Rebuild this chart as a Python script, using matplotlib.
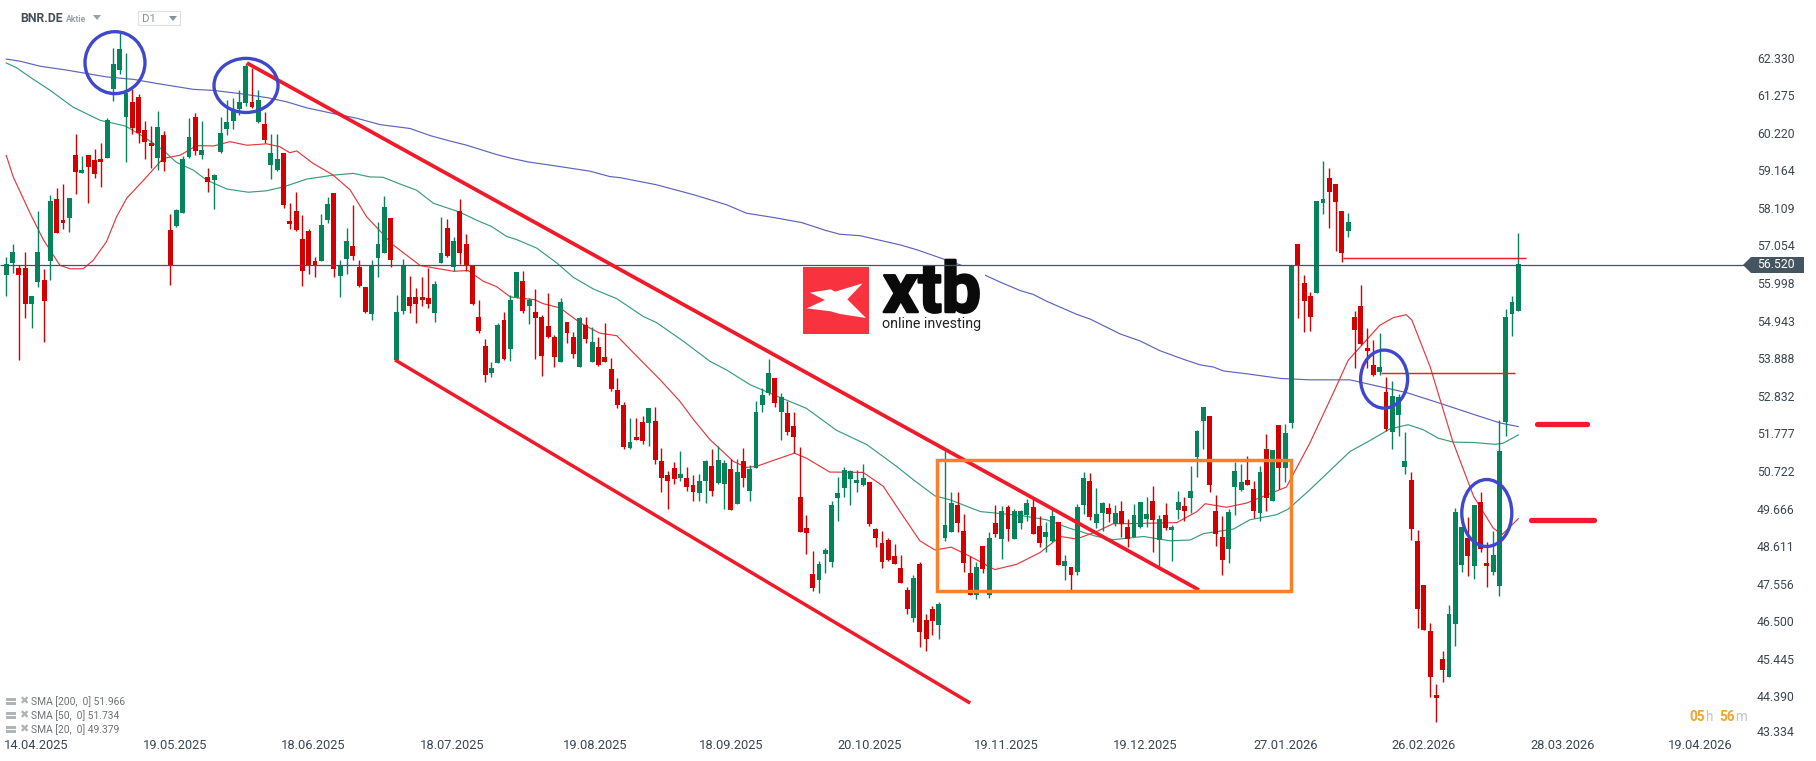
import matplotlib
matplotlib.use("Agg")
import matplotlib.pyplot as plt
import matplotlib.patheffects as pe
from matplotlib.patches import Ellipse, Rectangle, Polygon, FancyBboxPatch
from matplotlib.transforms import ScaledTranslation

W, H = 1816, 761
plt.rcParams['font.family'] = ['Roboto', 'DejaVu Sans']

directions = ("GGRRGGRGRR" "GRGRRRGGGG" "RRRRGRRGGG" "RGRGGGGGGR" "GRGGRRRRRR"
              "GGRGGRRRGG" "GRGGRRRRGG" "RGRRRRRGGR" "GGRGRRRRGR" "RGRGRRRRRG"
              "RRGRRRRGRR" "GGRGGRGRGG" "GGRGRRRRRG" "GGGGGGGRRR" "RRRRGRRRGG"
              "GRRRGRGRGR" "GGGRRGGRGR" "GGRGGRGRRG" "GGRGRGGRGG" "GRRRGGGRRG"
              "RGRGGRRRGG" "RRRGRRRRGR" "GGGRRRRRRG" "GGRGRRGGGGG")

highs = [56.74,57.09,56.52,56.87,55.63,58.02,56.38,58.47,58.66,58.78,
         58.39,60.18,59.56,59.59,59.76,59.92,60.63,62.60,63.02,62.45,
         61.44,61.32,60.55,60.41,60.83,60.27,57.95,58.08,59.56,60.63,
         60.77,60.55,59.23,59.06,60.66,61.14,61.19,61.42,62.17,62.04,
         61.42,60.80,60.18,60.18,59.65,58.25,58.55,57.91,57.51,56.73,
         57.94,58.41,58.53,56.64,57.54,58.19,56.64,55.89,56.64,57.71,
         58.44,57.82,55.66,56.67,56.20,55.86,56.17,56.42,56.05,57.86,
         57.80,57.29,58.37,57.38,56.52,55.53,54.44,53.79,54.88,55.19,
         55.67,56.32,56.34,55.59,55.84,55.11,55.73,54.55,55.59,54.91,
         54.63,55.05,55.05,54.77,54.49,54.88,53.90,53.34,52.67,52.22,
         52.22,52.27,52.50,52.53,51.37,50.73,50.98,51.29,50.84,50.62,
         50.64,51.04,51.35,51.43,51.04,51.07,51.07,51.37,50.90,52.69,
         53.06,53.87,53.34,52.92,52.69,52.39,51.40,49.49,48.48,48.20,
         48.57,49.89,50.56,50.84,50.76,50.76,50.93,50.42,49.13,49.04,
         48.84,48.67,48.37,47.46,47.80,48.16,46.70,46.93,47.04,51.29,
         50.13,50.13,49.52,48.32,48.17,48.62,49.01,49.77,49.74,49.77,
         49.66,49.63,49.94,49.94,49.46,49.29,49.63,49.29,48.37,48.03,
         49.80,50.70,50.67,50.25,49.85,49.83,49.77,49.88,49.38,49.80,
         49.85,49.99,50.30,49.49,49.83,49.21,50.16,49.99,50.87,51.88,
         52.52,52.27,50.05,49.46,49.66,50.98,50.92,51.15,50.44,50.87,
         51.76,51.31,52.02,52.04,56.52,57.09,56.22,55.74,58.30,59.42,
         59.22,58.77,58.02,57.96,55.21,55.94,54.73,54.39,54.59,53.36,
         53.24,52.88,51.82,50.70,49.07,47.53,46.46,44.75,45.67,46.96,
         49.69,49.15,49.43,49.77,50.14,48.73,49.04,52.16,55.26,55.63,57.40]

tops = [56.52,56.87,56.42,56.42,55.63,56.87,56.08,58.30,58.36,57.77,
        58.39,59.59,59.17,59.59,59.45,59.48,60.57,62.15,62.57,61.33,
        61.08,61.22,60.31,59.92,60.38,60.15,57.49,58.05,59.48,60.10,
        60.66,59.73,58.97,59.03,60.21,60.52,60.86,61.08,62.09,61.08,
        61.14,60.46,59.65,59.48,59.65,57.74,58.02,57.23,57.46,56.62,
        57.63,58.22,58.53,56.50,57.18,57.04,56.45,55.89,56.48,57.09,
        58.13,57.82,55.18,56.48,55.60,55.60,55.60,55.58,55.97,56.85,
        57.55,57.19,58.03,57.10,56.52,55.05,54.24,53.62,54.83,54.97,
        55.53,56.32,56.06,55.53,55.19,55.05,54.80,54.49,55.47,54.91,
        54.49,55.02,54.83,54.35,54.21,53.93,53.59,53.00,52.58,51.54,
        51.68,52.10,52.50,52.13,51.01,50.62,50.81,50.64,50.53,50.34,
        50.45,51.01,50.87,51.04,50.95,50.78,50.70,51.01,50.78,52.39,
        52.86,53.48,53.34,52.81,52.36,51.99,50.00,49.13,47.84,48.12,
        48.51,49.77,50.11,50.76,50.73,50.48,50.53,50.42,49.10,48.71,
        48.79,48.34,48.00,47.38,47.71,48.11,46.54,46.84,46.98,49.21,
        49.83,49.77,49.04,47.86,48.03,48.62,48.84,49.26,49.60,49.71,
        49.60,49.60,49.83,49.71,49.18,49.01,49.46,49.29,48.20,48.03,
        49.71,50.53,50.44,49.52,49.83,49.69,49.55,49.60,49.15,49.49,
        49.85,49.52,49.88,49.38,49.49,49.15,49.85,49.74,50.16,51.85,
        52.52,52.27,49.60,48.87,49.57,50.72,50.42,50.47,50.22,50.70,
        51.34,51.31,52.02,51.79,56.52,57.09,55.99,55.63,58.30,58.35,
        58.94,58.77,58.02,57.71,55.04,55.35,54.17,53.69,53.64,52.93,
        52.82,52.79,51.01,50.47,48.76,47.53,46.23,44.44,45.45,46.71,
        49.57,49.15,48.85,49.77,49.86,48.14,48.37,51.29,55.04,55.46,56.52]

bottoms = [56.22,56.55,56.22,55.41,55.41,56.03,55.49,56.62,57.40,57.68,
           57.82,59.12,59.09,59.25,59.06,59.40,59.51,61.45,61.98,60.66,
           60.35,60.21,59.96,59.85,59.51,59.40,56.49,57.60,57.96,59.54,
           59.70,59.59,58.84,58.89,59.68,60.32,60.55,60.88,61.05,60.94,
           60.52,60.01,59.31,59.17,58.19,57.66,57.49,56.34,56.48,56.48,
           56.62,57.77,56.39,56.19,56.67,56.76,55.91,55.18,55.13,56.70,
           56.84,56.64,53.84,55.21,55.35,55.41,55.52,55.41,55.16,56.57,
           56.75,56.46,56.85,56.49,55.42,54.66,53.42,53.48,53.76,53.87,
           54.15,55.61,55.22,55.36,55.02,53.96,54.49,53.93,53.79,54.60,
           54.01,53.65,54.44,53.79,53.71,53.79,53.03,52.58,51.40,51.37,
           51.60,51.57,52.08,51.04,50.53,50.45,50.50,50.53,50.28,50.14,
           50.11,50.45,50.17,50.39,50.36,49.63,49.80,50.53,50.17,50.81,
           52.58,52.92,52.64,52.39,51.82,51.68,49.02,48.99,47.44,47.67,
           48.40,48.15,49.97,50.25,50.50,50.39,50.34,49.24,48.85,48.17,
           48.23,48.11,47.58,46.84,46.59,46.20,46.00,46.51,46.39,48.84,
           49.01,49.26,48.14,47.24,47.24,47.97,47.24,48.96,48.82,49.10,
           48.82,49.26,49.49,48.96,48.70,48.87,48.76,48.09,48.06,47.80,
           47.89,49.77,49.43,49.26,49.55,49.52,49.24,49.24,48.82,48.87,
           49.15,49.38,49.35,48.79,49.12,49.07,49.63,49.60,49.97,51.12,
           52.13,50.33,48.96,48.23,48.53,50.28,50.19,50.33,49.60,49.55,
           49.97,49.88,50.81,50.81,52.06,56.47,55.49,55.04,55.71,58.24,
           58.55,58.27,56.84,57.45,54.67,54.28,54.09,53.41,53.50,51.89,
           51.81,52.29,50.84,49.10,46.85,46.26,44.94,44.35,45.14,44.94,
           46.43,48.09,48.34,48.06,48.54,48.06,47.89,47.50,52.09,55.12,55.21]

lows = [55.63,56.27,53.84,55.01,54.73,55.90,54.34,56.08,57.40,57.51,
        57.43,58.50,59.09,58.25,58.95,58.69,59.51,61.11,61.87,59.40,
        60.18,59.93,59.48,59.23,59.17,59.14,55.94,57.57,57.96,59.51,
        59.59,59.48,58.55,58.08,59.65,60.15,60.32,60.72,60.97,60.91,
        60.49,59.92,58.92,59.14,58.10,57.51,57.46,55.91,56.25,56.17,
        56.62,57.68,56.17,55.60,56.25,56.64,55.89,55.16,54.96,56.17,
        56.84,56.45,53.81,55.13,55.16,54.87,55.35,55.30,54.90,56.55,
        56.72,56.33,56.54,56.33,55.39,54.60,53.23,53.37,53.76,53.85,
        53.82,55.59,55.17,54.86,53.87,53.40,54.46,53.65,53.79,54.32,
        53.90,53.65,54.32,53.79,53.68,53.79,52.98,52.50,51.35,51.35,
        51.60,51.49,51.43,50.93,50.14,49.66,50.36,50.45,50.17,49.89,
        49.89,49.83,50.03,50.36,49.66,49.61,49.80,50.28,49.89,50.81,
        52.39,52.86,52.53,51.60,51.74,51.23,49.02,48.40,47.36,47.30,
        47.86,48.03,49.32,50.00,49.77,50.14,50.31,49.18,48.59,48.00,
        48.20,48.11,47.58,46.70,46.48,45.78,45.66,46.11,46.00,48.76,
        49.01,49.01,47.89,47.24,47.13,47.86,47.16,48.87,48.25,48.76,
        48.82,49.10,49.32,48.96,48.59,48.45,48.73,48.09,47.66,47.36,
        47.80,49.52,49.35,49.12,49.04,49.29,49.18,48.87,48.59,48.87,
        49.12,49.15,48.45,48.03,49.07,48.20,49.38,49.32,49.55,50.56,
        51.34,50.13,48.62,47.80,48.14,49.49,50.16,50.33,49.41,49.32,
        49.60,49.88,50.22,50.42,51.92,55.01,54.62,54.65,55.71,57.93,
        57.54,56.89,56.58,57.29,53.61,54.25,53.61,53.38,53.41,51.84,
        51.34,51.70,50.64,48.79,46.32,46.26,44.38,43.68,44.80,44.94,
        45.81,47.89,47.78,47.69,48.45,47.47,47.81,47.22,51.71,54.51,55.21]

sma200_idx = [0,2.2,5.35,9.6,15.9,20.2,24.4,29.7,32.9,37.1,41.3,44.5,47.7,51.9,55.6,59.3,64.1,67.3,
              70.4,73.1,77.8,80.2,82.9,87.9,92.7,95.8,97.4,103.2,109.1,114.3,117.5,121.8,126.2,130.2,
              132.3,135.5,141.9,144.6,151.4,155,157.7,160.9,163,165.1,169.9,172,176.8,180,183.1,186.8,
              189.5,191.6,193.2,196.9,202.2,206.9,213.3,217,222.3,227.6,232.9,237.1,240]
sma200_val = [62.29,62.23,62.09,61.98,61.79,61.72,61.59,61.44,61.41,61.32,61.21,61.09,60.92,60.76,60.63,60.45,60.34,60.14,
              59.99,59.87,59.61,59.50,59.40,59.27,59.14,58.99,58.96,58.76,58.48,58.20,57.96,57.84,57.70,57.47,
              57.37,57.33,57.07,56.93,56.51,56.25,56.03,55.79,55.68,55.49,55.12,54.99,54.57,54.37,54.10,53.86,
              53.70,53.64,53.53,53.45,53.32,53.28,53.28,53.13,52.92,52.62,52.31,52.07,51.966]

sma50_idx = [0,1.6,4.3,6.9,10.6,14.9,18.9,21.8,24.9,27,29.7,31.8,35,38.4,41.3,44,47.7,51.9,55.1,57.7,59.8,62.5,65.1,67.8,
             72,74.7,77,79.4,81,84.2,87.4,90,93.2,96.9,101.1,103.2,107.5,111.7,114.3,118.1,121.8,127,131.8,136.6,
             141.3,144,147.4,149.8,154.6,161.4,165.1,168.8,173.1,175.7,180.5,184.7,187.9,190,194.8,197.4,201.6,203.5,206.9,
             211.7,213.3,216.2,219.6,222.5,224.9,227.3,229.7,232.9,236.3,237.6,240]
sma50_val = [62.18,62.05,61.72,61.42,60.94,60.57,60.41,60.11,59.73,59.39,59.17,58.89,58.64,58.55,58.59,58.70,58.92,59.03,59.08,58.98,58.97,58.78,58.61,58.24,
             57.99,57.76,57.59,57.31,57.22,56.98,56.56,56.16,55.83,55.56,55.06,54.89,54.36,53.80,53.56,53.14,52.86,52.48,51.86,51.46,
             50.85,50.47,50.02,49.91,49.58,49.46,49.35,49.11,48.88,48.79,48.88,48.76,48.78,48.96,49.09,49.35,49.49,49.65,50.19,
             51.00,51.27,51.55,51.90,52.02,51.88,51.64,51.53,51.52,51.47,51.50,51.734]

sma20_idx = [0,1.1,3.8,5.9,8.5,10.1,12.2,13.8,15.9,17.5,19.1,21.8,24.9,27.6,30.2,32.9,35.5,38.2,41.3,43.4,45,46.1,48.7,51.9,54.6,57.2,61.4,65.7,
             71,73.3,75.7,77.8,80,83.9,85.2,87.9,91.1,94.2,96.9,100.6,103.8,106.9,109.1,111.7,115.4,117.5,119.1,121.8,125.1,127,130.7,136,139.2,
             141.6,145,147.4,150,153,156.9,160.4,164.1,167.3,169.9,173.1,175.7,178.1,185.8,189,190.3,193.7,196.9,203.2,206.9,
             210.6,213,218,220.2,222.2,223.1,226,229.6,232.9,236,237.4,240]
sma20_val = [59.58,58.98,57.95,57.21,56.50,56.40,56.40,56.64,57.16,57.86,58.38,58.89,59.50,59.59,59.86,59.85,59.97,59.87,59.91,59.83,59.66,59.71,59.36,59.03,58.61,57.86,57.07,56.49,
             56.33,56.35,56.05,55.90,55.61,55.53,55.42,55.30,54.88,54.59,54.52,53.85,53.28,52.68,52.16,51.60,50.99,50.82,50.85,51.02,51.22,51.08,50.69,50.68,50.29,
             49.65,48.76,48.50,48.58,48.32,47.95,48.10,48.43,48.88,48.81,49.02,49.24,49.24,49.27,49.58,49.80,49.70,49.82,50.27,51.50,
             52.90,53.83,54.81,55.03,55.11,54.96,53.65,51.55,50.01,49.12,48.93,49.379]

price_ticks = [62.330,61.275,60.220,59.164,58.109,57.054,55.998,54.943,53.888,52.832,
               51.777,50.722,49.666,48.611,47.556,46.500,45.445,44.390,43.334]
date_labels = ["14.04.2025","19.05.2025","18.06.2025","18.07.2025","19.08.2025","18.09.2025","20.10.2025",
               "19.11.2025","19.12.2025","27.01.2026","26.02.2026","28.03.2026","19.04.2026"]
date_idx = [4.7,26.8,48.7,70.7,93.4,115,137.1,158.7,180.7,203.1,225,247.1,268.8]
last_price = 56.52

GREEN, RED = "#05835a", "#d20000"
TREND = "#f01a2a"

fig = plt.figure(figsize=(W/100, H/100), dpi=100, facecolor="white")
ax = fig.add_axes([0, (H-738)/H, 1745/W, 738/H])
ax.set_xlim(-1, (1745-6.3)/6.3)
ax.set_ylim(56.52-(738-264.5)/35.6, 56.52+264.5/35.6)
for s in ax.spines.values():
    s.set_visible(False)

ax.plot(sma200_idx, sma200_val, color="#5c64bb", lw=0.85, zorder=2, solid_joinstyle="round")
ax.plot(sma50_idx, sma50_val, color="#3a9c7c", lw=0.85, zorder=2)
ax.plot(sma20_idx, sma20_val, color="#e2393f", lw=0.85, zorder=2)

x = list(range(len(highs)))
cols = [GREEN if d == "G" else RED for d in directions]
ax.vlines(x, lows, highs, colors=cols, lw=1.0, zorder=3)
ax.bar(x, [t-b for t, b in zip(tops, bottoms)], bottom=bottoms, width=0.79, color=cols, linewidth=0, zorder=4)

# logo background and logo
def fx(px): return px/W
def fy(py): return 1-py/H
tf = fig.transFigure
ax.add_patch(Rectangle((fx(795), fy(336)), 190/W, 70/H, transform=tf, color="white", zorder=5, lw=0))
ax.add_patch(FancyBboxPatch((fx(802.5), fy(334)), 67/W, 67.5/H, boxstyle="square,pad=0", transform=tf,
                            fc="#f93240", ec="none", zorder=6))
logo_x = [60,122,135,218,172,228,150,122,50,105]
logo_y = [128,118,125,100,148,204,192,184,175,150]
ax.add_patch(Polygon([(fx(790+a/3), fy(250+b/3)) for a, b in zip(logo_x, logo_y)], closed=True,
                     transform=tf, fc="white", ec="none", zorder=7))
ax.text(fx(883), fy(312), "xtb", transform=tf, fontsize=50, fontweight="bold", family="Roboto",
        color="#0a0a0a", ha="left", va="baseline", zorder=7,
        path_effects=[pe.withStroke(linewidth=1.8, foreground="#0a0a0a")])
ax.text(fx(882), fy(328), "online investing", transform=tf, fontsize=10.3, color="#222222",
        ha="left", va="baseline", zorder=7)

# price line
ax.hlines(last_price, -1, (1745-6.3)/6.3, color="#44545f", lw=0.9, zorder=8)

# annotations
ax.plot([38.2, 189.3], [62.18, 47.38], color=TREND, lw=2.7, zorder=9, solid_capstyle="butt")
ax.plot([61.7, 153.0], [53.84, 44.20], color=TREND, lw=2.5, zorder=9, solid_capstyle="butt")
ax.add_patch(Rectangle((147.8, 47.35), 203.9-147.8, 51.02-47.35, fill=False, ec="#ff7f27", lw=2.5, zorder=9))
ax.hlines([56.69, 53.46], [212.1, 218.2], [241.3, 239.5], color=TREND, lw=1.05, zorder=9)
ax.plot([243.0, 250.9], [52.03, 52.03], color=TREND, lw=3.8, zorder=9, solid_capstyle="round")
ax.plot([242.0, 252.0], [49.33, 49.33], color=TREND, lw=3.8, zorder=9, solid_capstyle="round")
for cx, cy, w, h in [(17.25, 62.19, 9.52, 1.74), (38.05, 61.55, 10.16, 1.52),
                     (218.7, 53.30, 7.46, 1.63), (235.0, 49.54, 7.94, 1.88)]:
    ax.add_patch(Ellipse((cx, cy), w, h, fill=False, ec="#3f48cc", lw=2.4, zorder=10))

# axes text
ax.yaxis.tick_right()
ax.set_yticks(price_ticks)
ax.set_yticklabels([f"{v:.3f}" for v in price_ticks], fontsize=8.8, color="#3b4650")
ax.tick_params(axis="y", length=0, pad=8.5)
ax.set_xticks(date_idx)
ax.set_xticklabels(date_labels, fontsize=9.3, color="#3b4650")
ax.tick_params(axis="x", length=0, pad=1.0)
last_label = ax.get_yticklabels()[-1]
last_label.set_transform(last_label.get_transform() + ScaledTranslation(0, 3/100, fig.dpi_scale_trans))

# price tag
ax.add_patch(Polygon([(fx(1743), fy(265)), (fx(1751), fy(257)), (fx(1804), fy(257)), (fx(1804), fy(273)), (fx(1751), fy(273))],
                     closed=True, transform=tf, fc="#455560", ec="none", clip_on=False, zorder=11))
ax.text(fx(1757), fy(265), "56.520", transform=tf, color="white", fontsize=8.8, va="center", ha="left", zorder=12, clip_on=False)

# header
ax.text(fx(20), fy(18.5), "BNR.DE", transform=tf, fontsize=8.8, fontweight="bold", color="#444f58", va="center", ha="left", zorder=12)
ax.text(fx(66), fy(19), "Aktie", transform=tf, fontsize=6.2, fontweight="bold", color="#9aa1a6", va="center", ha="left", zorder=12)
ax.add_patch(Polygon([(fx(93), fy(15)), (fx(101), fy(15)), (fx(97), fy(20))], transform=tf, fc="#9aa1a6", ec="none", zorder=12))
ax.add_patch(FancyBboxPatch((fx(138), fy(25)), 42/W, 14/H, boxstyle="square,pad=0", transform=tf, fc="white", ec="#dde0e2", lw=0.8, zorder=12))
ax.text(fx(142), fy(19.5), "D1", transform=tf, fontsize=8.2, color="#8b9297", va="center", ha="left", zorder=13)
ax.add_patch(Polygon([(fx(169), fy(16)), (fx(177), fy(16)), (fx(173), fy(21))], transform=tf, fc="#8b9297", ec="none", zorder=13))

# legend
legend_rows = ["SMA [200,  0] 51.966", "SMA [50,  0] 51.734", "SMA [20,  0] 49.379"]
for row, yy in zip(legend_rows, [701.5, 715.5, 729.5]):
    ax.add_patch(Rectangle((fx(6), fy(yy+3.5)), 10/W, 7/H, transform=tf, fc="#b0b4b7", ec="none", zorder=12, clip_on=False))
    ax.add_patch(Rectangle((fx(6), fy(yy)), 10/W, 1/H, transform=tf, fc="white", ec="none", zorder=13, clip_on=False))
    ax.text(fx(19), fy(yy), "✖", transform=tf, family="DejaVu Sans", fontsize=8, color="#b0b4b7", va="center", ha="left", zorder=12)
    ax.text(fx(31), fy(yy), row, transform=tf, fontsize=7.4, color="#6f7275", va="center", ha="left", zorder=12)

# countdown
ax.text(fx(1689), fy(717), "05", transform=tf, fontsize=9.8, fontweight="bold", color="#f7a12d", va="center", ha="left", zorder=12)
ax.text(fx(1705), fy(717), "h", transform=tf, fontsize=9.8, color="#c4c4c4", va="center", ha="left", zorder=12)
ax.text(fx(1719), fy(717), "56", transform=tf, fontsize=9.8, fontweight="bold", color="#f7a12d", va="center", ha="left", zorder=12)
ax.text(fx(1735), fy(717), "m", transform=tf, fontsize=9.8, color="#c4c4c4", va="center", ha="left", zorder=12)

fig.savefig("out.png", dpi=100, facecolor="white")
